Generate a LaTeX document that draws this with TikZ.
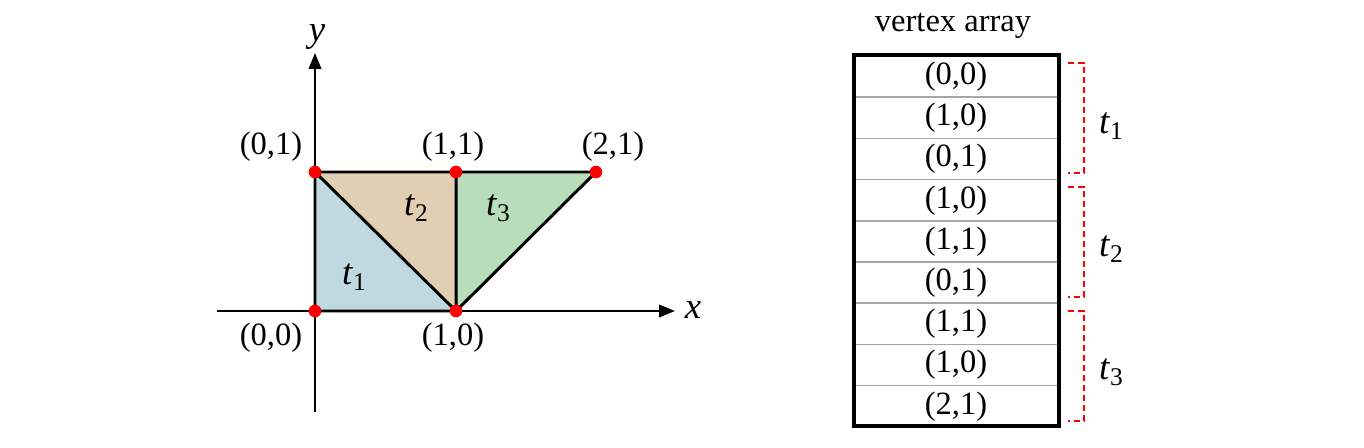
\documentclass[tikz,border=0pt]{standalone}
\usepackage{fontspec}
\setmainfont{Liberation Serif}
\usetikzlibrary{arrows.meta}
\definecolor{tblue}{HTML}{C0D9E1}
\definecolor{ttan}{HTML}{E2CEB3}
\definecolor{tgreen}{HTML}{B8DDBB}
\definecolor{dotred}{HTML}{FF0000}
\newcommand{\tsub}[1]{{\fontsize{21}{22}\selectfont\textit{t}}\raisebox{-0.4ex}{\fontsize{14.5}{15}\selectfont #1}}
\begin{document}
\begin{tikzpicture}[x=0.02cm,y=-0.02cm,
  lbl/.style={font=\fontsize{18.5}{21}\selectfont, inner sep=0pt},
  edge/.style={line width=1.7pt, line cap=round, line join=round},
  axis/.style={line width=1.3pt, -{Triangle[length=9pt,width=7pt]}},
  vdot/.style={circle, fill=dotred, inner sep=0pt, minimum size=7.2pt},
  cell/.style={font=\fontsize{18.5}{21}\selectfont, inner sep=0pt},
  rowline/.style={line width=0.9pt, draw=gray!70},
  brk/.style={draw=dotred, line width=1.4pt, dash pattern=on 3.5pt off 2.2pt}]
\useasboundingbox (0,0) rectangle (1364,448);
% points
\coordinate (A) at (315,311);
\coordinate (B) at (456,311);
\coordinate (C) at (315,172);
\coordinate (D) at (456,172);
\coordinate (E) at (596,172);
% fills
\fill[tblue] (A) -- (B) -- (C) -- cycle;
\fill[ttan] (B) -- (D) -- (C) -- cycle;
\fill[tgreen] (B) -- (E) -- (D) -- cycle;
% axes
\coordinate (xs) at (217,311);
\coordinate (xe) at (675,311);
\coordinate (ys) at (315,412);
\coordinate (ye) at (315,53);
\draw[axis] (xs) -- (xe);
\draw[axis] (ys) -- (ye);
\node[lbl, font=\fontsize{21}{22}\selectfont\itshape] (xl) at (693,310) {x};
\node[lbl, font=\fontsize{21}{22}\selectfont\itshape] (yl) at (317,37) {y};
% edges
\draw[edge] (A) -- (B) -- (E) -- (C) -- cycle;
\draw[edge] (C) -- (B) -- (D);
% dots
\node[vdot] (pA) at (A) {};
\node[vdot] (pB) at (B) {};
\node[vdot] (pC) at (C) {};
\node[vdot] (pD) at (D) {};
\node[vdot] (pE) at (E) {};
% labels
\node[lbl] (lA) at (271,338) {(0,0)};
\node[lbl] (lB) at (453,338) {(1,0)};
\node[lbl] (lC) at (271,147) {(0,1)};
\node[lbl] (lD) at (453,147) {(1,1)};
\node[lbl] (lE) at (613,147) {(2,1)};
\node[lbl] (t1) at (354,277) {\tsub{1}};
\node[lbl] (t2) at (416,208) {\tsub{2}};
\node[lbl] (t3) at (498,208) {\tsub{3}};
% table
\node[lbl] (title) at (953,26) {vertex array};
\foreach \i/\yy in {1/97.2,2/138.4,3/179.6,4/220.8,5/262,6/303.2,7/344.4,8/385.6}
  \draw[rowline] (854,\yy) -- (1059,\yy);
\draw[line width=1.8pt] (854,55) rectangle (1059,426);
\foreach \i/\txt in {0/(0{,}0),1/(1{,}0),2/(0{,}1),3/(1{,}0),4/(1{,}1),5/(0{,}1),6/(1{,}1),7/(1{,}0),8/(2{,}1)}
  \node[cell] (c\i) at (956,{76.6+41.2*\i}) {\txt};
% brackets
\draw[brk] (1068,63) -- (1084,63) -- (1084,173) -- (1068,173);
\draw[brk] (1068,187) -- (1084,187) -- (1084,297) -- (1068,297);
\draw[brk] (1068,311) -- (1084,311) -- (1084,421) -- (1068,421);
\node[lbl] (b1) at (1111,126) {\tsub{1}};
\node[lbl] (b2) at (1111,249) {\tsub{2}};
\node[lbl] (b3) at (1111,372) {\tsub{3}};
\end{tikzpicture}
\end{document}
